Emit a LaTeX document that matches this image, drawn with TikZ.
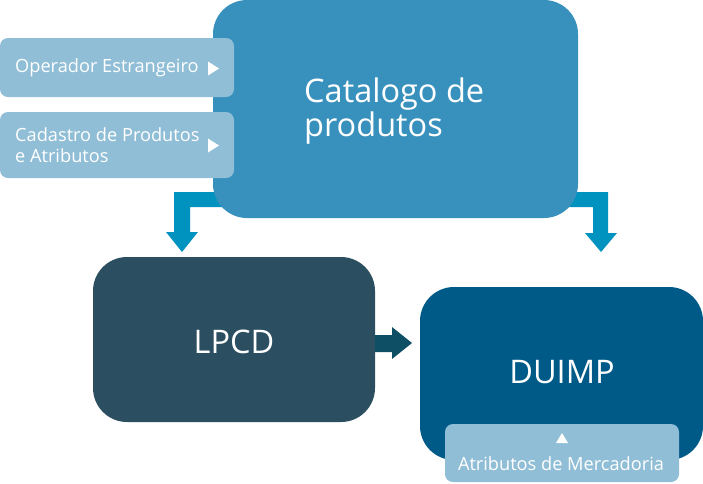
\documentclass[tikz,border=0pt]{standalone}
\usepackage{fontspec}
\setmainfont{Open Sans}
\begin{document}
\begin{tikzpicture}[x=1pt,y=-1pt,
  bigbox/.style={rounded corners=34pt},
  smallbox/.style={fill=lightb,rounded corners=8pt},
  smalltxt/.style={text=white,font=\fontsize{18.2}{21}\selectfont,inner sep=0pt},
  bigtxt/.style={text=white,font=\fontsize{32.5}{32}\selectfont,inner sep=0pt},
  tri/.style={fill=white}]
\definecolor{catb}{HTML}{3891BD}
\definecolor{lightb}{HTML}{90BED6}
\definecolor{lpcdc}{HTML}{2B4E60}
\definecolor{duimpc}{HTML}{005A87}
\definecolor{arrc}{HTML}{0093BF}
\definecolor{arrd}{HTML}{0E4F66}
\useasboundingbox (0,0) rectangle (703,483);
% elbow arrows (behind catalog)
\fill[arrc] (233,192) -- (174,192) -- (174,232) -- (166,232) -- (182,252) -- (198,232) -- (190,232) -- (190,207) -- (233,207) -- cycle;
\fill[arrc] (550,192) -- (608,192) -- (608,233) -- (617,233) -- (601,252) -- (585,233) -- (593,233) -- (593,207) -- (550,207) -- cycle;
% catalog
\fill[catb,bigbox] (213,0) rectangle (578,218);
\node[bigtxt,anchor=west,align=left] (cattxt) at (304,111) {Catalogo de\\produtos};
% small boxes
\fill[smallbox] (0,38) rectangle (234,97);
\node[smalltxt,anchor=west] (op) at (15,68) {Operador Estrangeiro};
\fill[tri] (208,61.5) -- (219,68.5) -- (208,75.5) -- cycle;
\fill[smallbox] (0,112) rectangle (234,178);
\node[smalltxt,anchor=west,align=left] (cad) at (15,145) {Cadastro de Produtos\\e Atributos};
\fill[tri] (208,138.5) -- (219,145.5) -- (208,152.5) -- cycle;
% LPCD
\fill[lpcdc,bigbox] (93,257) rectangle (375,422);
\node[bigtxt] (lpcd) at (234,341.5) {LPCD};
% middle arrow
\fill[arrd] (375,335) -- (392,335) -- (392,327) -- (412,343) -- (392,359) -- (392,352) -- (375,352) -- cycle;
% DUIMP
\fill[duimpc,bigbox] (420,287) rectangle (703,460);
\node[bigtxt] (duimp) at (562,372) {DUIMP};
% Atributos
\fill[smallbox] (445,424) rectangle (679,482);
\node[smalltxt] (atr) at (561,464) {Atributos de Mercadoria};
\fill[tri] (556,443) -- (562,433) -- (568,443) -- cycle;
\end{tikzpicture}
\end{document}
